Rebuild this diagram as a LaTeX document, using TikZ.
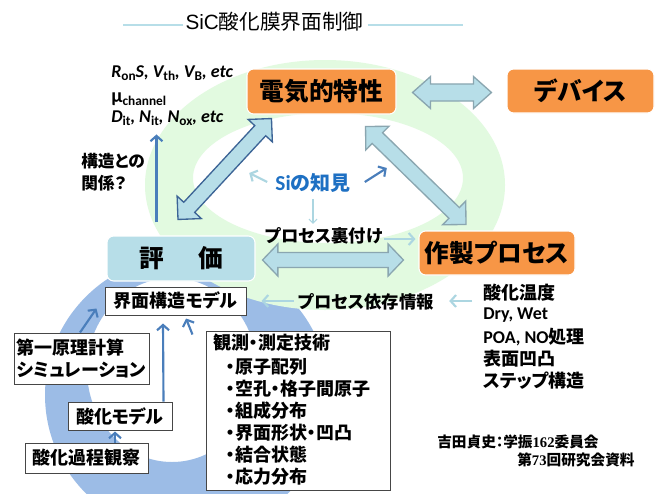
\documentclass[tikz,border=0pt]{standalone}
\usepackage{fontspec}
\setmainfont{Carlito}
\newfontfamily\jp{Noto Sans CJK JP}[RawFeature=+palt]
\newfontfamily\jpfull{Noto Sans CJK JP}
\newfontfamily\ttlfont{Liberation Sans}
\newfontfamily\digitfont{Liberation Serif}
\usetikzlibrary{arrows.meta,calc}
\definecolor{orng}{RGB}{247,150,70}
\definecolor{lblue}{RGB}{183,222,232}
\definecolor{arrgray}{RGB}{138,166,176}
\definecolor{dblue}{RGB}{60,100,150}
\definecolor{tblue}{RGB}{74,126,187}
\definecolor{lgreen}{RGB}{226,250,224}
\definecolor{ringblue}{RGB}{156,188,230}
\definecolor{siblue}{RGB}{30,112,195}
\definecolor{boxgray}{RGB}{70,70,70}
\definecolor{paleblue}{RGB}{172,214,225}
\newcommand{\lowtxt}[1]{\raisebox{-0.4ex}{\fontsize{10}{10}\selectfont\upshape #1}}
\newcommand{\fatarr}[6]{%
  \coordinate (fa1) at ($(#2)!#6!(#3)$);
  \coordinate (fa2) at ($(#3)!#6!(#2)$);
  \draw[#1] (#2) -- ($(fa1)!#5!90:(#2)$) -- ($(fa1)!#4!90:(#2)$)
    -- ($(fa2)!#4!-90:(#3)$) -- ($(fa2)!#5!-90:(#3)$) -- (#3)
    -- ($(fa2)!#5!90:(#3)$) -- ($(fa2)!#4!90:(#3)$)
    -- ($(fa1)!#4!-90:(#2)$) -- ($(fa1)!#5!-90:(#2)$) -- cycle;}
\begin{document}
\begin{tikzpicture}[x=0.75pt,y=-0.75pt,
  orbox/.style={fill=orng, draw=white, line width=0.8pt, rounded corners=5pt, inner sep=0pt,
    font=\jp\bfseries\fontsize{18.5}{20}\selectfont},
  hybox/.style={orbox, fill=lblue},
  wbox/.style={fill=white, draw=boxgray, line width=0.75pt, inner sep=0pt,
    font=\jp\bfseries\fontsize{13.5}{16.5}\selectfont},
  bodytxt/.style={inner sep=0pt, font=\jp\bfseries\fontsize{13.5}{16.5}\selectfont},
  fat/.style={fill=lblue, draw=arrgray, line width=1pt, line join=miter},
  fatdark/.style={fat, draw=dblue},
  tarrow/.style={draw=tblue, line width=1.6pt, -{Straight Barb[length=4pt,width=9pt]}},
  larr/.style={draw=paleblue, line width=1.6pt, -{Straight Barb[length=4pt,width=9pt]}},
  larrthin/.style={draw=paleblue, line width=0.8pt, -{Straight Barb[length=3pt,width=6pt]}},
  titleline/.style={draw=lblue, line width=1.5pt}
]
\useasboundingbox (0,0) rectangle (659,493);
\fill[white] (0,0) rectangle (659,493);

% rings
\fill[ringblue, even odd rule] (187,395) ellipse [x radius=142, y radius=140]
  (172,370) ellipse [x radius=85, y radius=92];
\fill[lgreen, even odd rule] (325,185) ellipse [x radius=180, y radius=125]
  (328,178) ellipse [x radius=135, y radius=65];

% title
\node[inner sep=0pt, font=\fontsize{15.5}{18}\selectfont] (title) at (274.5,22)
  {{\ttlfont SiC}{\jpfull 酸化膜界面制御}};
\draw[titleline] ($(title.west)+(-2,2.5)$) -- ($(title.west)+(-62,2.5)$);
\draw[titleline] ($(title.east)+(4,2.5)$) -- ($(title.east)+(99,2.5)$);

% main boxes
\node[orbox, minimum width=111.75pt, minimum height=33.75pt] (denki) at (321.5,91.5) {電気的特性};
\node[orbox, minimum width=110.25pt, minimum height=33pt] (device) at (580.5,91) {デバイス};
\node[hybox, minimum width=111pt, minimum height=33.75pt] (hyoka) at (181,258.5) {評\hspace{1.4em}価};
\node[orbox, minimum width=117pt, minimum height=33pt] (sakusei) at (497,253) {作製プロセス};

% lower boxes
\node[wbox, minimum width=105.75pt, minimum height=21pt] (kaimen) at (175.5,301) {界面構造モデル};
\node[wbox, minimum width=101.25pt, minimum height=38.25pt, align=left] (daiichi) at (81.5,358.5)
  {第一原理計算\\シミュレーション};
\node[wbox, minimum width=78pt, minimum height=21pt] (smodel) at (120,416) {酸化モデル};
\node[wbox, minimum width=92.25pt, minimum height=22.5pt] (skatei) at (86.5,458) {酸化過程観察};
\node[wbox, minimum width=138pt, minimum height=119.25pt] (kansoku) at (298,410.5) {};
\node[bodytxt, anchor=west] (k0) at (213,343) {観測・測定技術};
\node[bodytxt, anchor=west] (k1) at (226,367) {・原子配列};
\node[bodytxt, anchor=west] (k2) at (226,389) {・空孔・格子間原子};
\node[bodytxt, anchor=west] (k3) at (226,411) {・組成分布};
\node[bodytxt, anchor=west] (k4) at (226,433) {・界面形状・凹凸};
\node[bodytxt, anchor=west] (k5) at (226,455) {・結合状態};
\node[bodytxt, anchor=west] (k6) at (226,477) {・応力分布};

% top-left parameters
\node[inner sep=0pt, anchor=west, font=\bfseries\itshape\fontsize{13.5}{16}\selectfont] (p1) at (111,73)
  {R\lowtxt{on}S, V\lowtxt{th}, V\lowtxt{B}, etc};
\node[inner sep=0pt, anchor=west, font=\bfseries\fontsize{13.5}{16}\selectfont] (p2) at (111,99)
  {{\fontsize{15}{16}\selectfont μ}\lowtxt{channel}};
\node[inner sep=0pt, anchor=west, font=\bfseries\itshape\fontsize{13.5}{16}\selectfont] (p3) at (111,118)
  {D\lowtxt{it}, N\lowtxt{it}, N\lowtxt{ox}, etc};
\node[bodytxt, anchor=west, font=\jp\bfseries\fontsize{12.5}{15}\selectfont] (q1) at (81,161) {構造との};
\node[bodytxt, anchor=west, font=\jp\bfseries\fontsize{12.5}{15}\selectfont] (q2) at (81,183) {関係？};

% middle texts
\node[inner sep=0pt, font=\bfseries\fontsize{15}{18}\selectfont, text=siblue] (si) at (313,183)
  {{\fontsize{16}{18}\selectfont Si}{\jp の知見}};
\node[bodytxt, font=\jp\bfseries\fontsize{13}{16}\selectfont] (ura) at (324,236) {プロセス裏付け};
\node[bodytxt, font=\jp\bfseries\fontsize{13}{16}\selectfont] (izon) at (366,302) {プロセス依存情報};

% right list
\node[bodytxt, anchor=west] (r1) at (483,293) {酸化温度};
\node[bodytxt, anchor=west] (r2) at (483,315) {\rmfamily\bfseries Dry, Wet};
\node[bodytxt, anchor=west] (r3) at (483,337) {{\rmfamily\bfseries POA, NO}処理};
\node[bodytxt, anchor=west] (r4) at (483,359) {表面凹凸};
\node[bodytxt, anchor=west] (r5) at (483,381) {ステップ構造};

% footnote
\node[inner sep=0pt, anchor=west, font=\jp\bfseries\fontsize{11}{13}\selectfont] (f1) at (437,442)
  {吉田貞史：学振{\digitfont\bfseries 162}委員会};
\node[inner sep=0pt, anchor=west, font=\jp\bfseries\fontsize{11}{13}\selectfont] (f2) at (517,460)
  {第{\digitfont\bfseries 73}回研究会資料};

% fat double arrows
\coordinate (ta) at ($(denki.east)+(16,1)$);
\coordinate (tb) at ($(device.west)+(-15,1.5)$);
\fatarr{fat}{ta}{tb}{6.4pt}{12pt}{13.5pt}
\coordinate (ha) at ($(hyoka.east)+(7,1.5)$);
\coordinate (hb) at ($(sakusei.west)+(-15,7)$);
\fatarr{fat}{ha}{hb}{5.6pt}{12pt}{11.5pt}
\coordinate (la) at ($(hyoka.north)+(-3,-16)$);
\coordinate (lb) at ($(denki.south west)+(25,4)$);
\fatarr{fatdark}{la}{lb}{5.6pt}{12.4pt}{12.4pt}
\coordinate (ra) at ($(denki.south east)+(-31,12)$);
\coordinate (rb) at ($(sakusei.north)+(-31,-6)$);
\fatarr{fat}{ra}{rb}{5.6pt}{12.4pt}{12.4pt}

% thin arrows
\coordinate (relB) at ($(hyoka.north west)+(50,-13)$);
\coordinate (relT) at ($(hyoka.north west)+(50,-101)$);
\draw[tarrow] (relB) -- (relT);
\draw[larr] ($(si.west)+(-8,-1)$) -- ($(si.west)+(-26,-10)$);
\draw[tarrow] ($(si.east)+(14,-1)$) -- ($(si.east)+(36,-15)$);
\draw[larrthin] ($(si.south)+(0,6)$) -- ($(si.south)+(0,31)$);
\draw[larr] ($(ura.east)+(1,3)$) -- ($(sakusei.west)+(-3,-14)$);
\draw[larr] ($(izon.west)+(-4,-1)$) -- ($(kaimen.east)+(15,0)$);
\draw[larr] ($(r1.west)+(-11,8)$) -- ($(izon.east)+(15,-1)$);
\draw[tarrow] ($(daiichi.north)+(-1.5,0)$) -- ($(kaimen.south west)+(-8,-7)$);
\draw[tarrow] ($(smodel.north east)+(-9,0)$) -- ($(kaimen.south)+(-12.5,8)$);
\draw[tarrow] ($(kansoku.north west)+(-13,4)$) -- ($(kaimen.south)+(10.5,3)$);
\draw[tarrow] ($(skatei.north)+(28.5,0)$) -- ($(smodel.south)+(-5,1)$);
\end{tikzpicture}
\end{document}
